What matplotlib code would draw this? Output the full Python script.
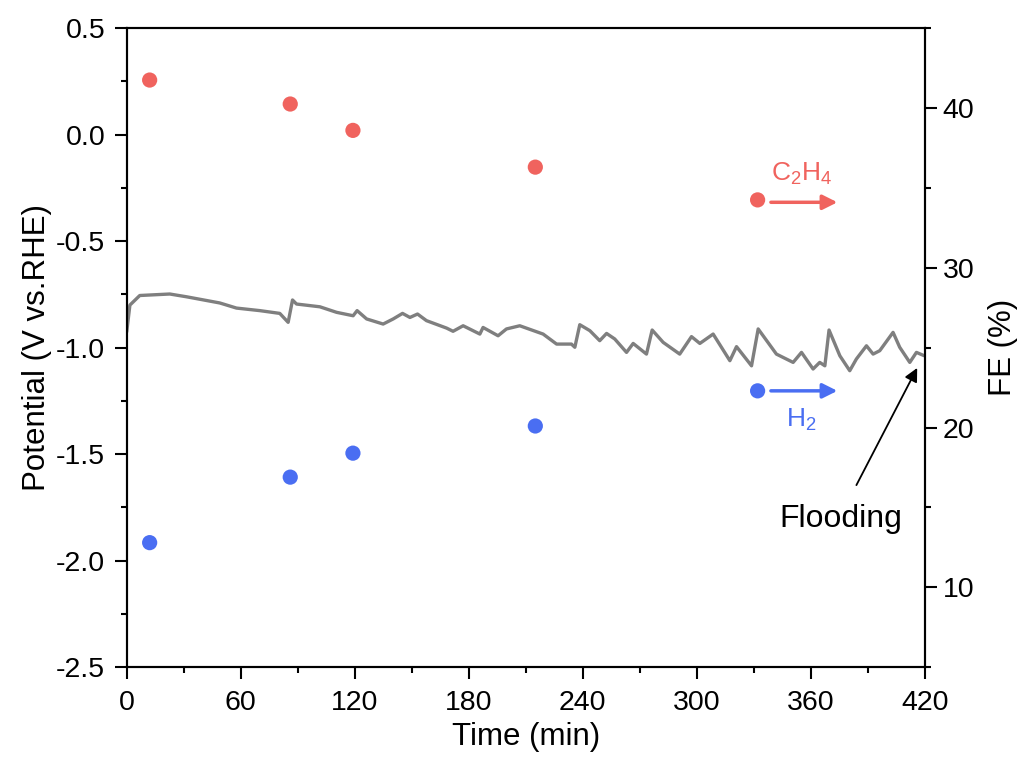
import matplotlib.pyplot as plt
from matplotlib.ticker import MultipleLocator

plt.rcParams['font.family'] = ['Liberation Sans', 'DejaVu Sans']
plt.rcParams['mathtext.fontset'] = 'custom'
plt.rcParams['mathtext.rm'] = 'Liberation Sans'
plt.rcParams['mathtext.default'] = 'regular'

# potential trace (min, V vs RHE)
time_min = [0, 1.6, 6.8, 22.6, 31.4, 48.9, 57.7, 70, 80.5, 84.9, 87.2, 89.3,
            101.6, 110.4, 119.1, 121.2, 126.2, 134.9, 140.2, 145.1, 149, 153,
            157.7, 168.3, 171.7, 177, 185.8, 187.5, 195.4, 199.8, 206.8, 219.1,
            226.2, 234, 235.8, 238.4, 243.7, 248.9, 252.5, 256.8, 263, 266.5,
            273.5, 276.5, 282.3, 291, 297.2, 301.6, 308.6, 317.4, 320.9, 328.8,
            332.3, 341.9, 350.7, 355.1, 361.2, 364.7, 367.4, 369.6, 375.3,
            380.5, 384, 389.3, 392.8, 396.3, 403.3, 406.8, 412.1, 415.6, 419]
potential = [-0.92, -0.80, -0.755, -0.748, -0.761, -0.790, -0.814, -0.826,
             -0.839, -0.881, -0.776, -0.795, -0.808, -0.834, -0.850, -0.826,
             -0.865, -0.889, -0.865, -0.839, -0.858, -0.842, -0.873, -0.908,
             -0.923, -0.897, -0.936, -0.905, -0.944, -0.912, -0.897, -0.936,
             -0.983, -0.983, -0.998, -0.892, -0.920, -0.967, -0.933, -0.959,
             -1.022, -0.980, -1.030, -0.917, -0.975, -1.030, -0.948, -0.980,
             -0.936, -1.061, -0.995, -1.085, -0.912, -1.030, -1.069, -1.022,
             -1.100, -1.069, -1.085, -0.917, -1.038, -1.108, -1.053, -0.991,
             -1.030, -1.014, -0.928, -0.998, -1.069, -1.022, -1.035]

# faradaic efficiencies (%)
fe_time = [12, 86, 119, 215, 332]
fe_c2h4 = [41.75, 40.25, 38.6, 36.3, 34.25]
fe_h2 = [12.8, 16.9, 18.4, 20.1, 22.3]

red = '#f0635e'
blue = '#4a6ef2'
grey = '#7f7f7f'

fig = plt.figure(figsize=(10.23, 7.6), dpi=100)
ax = fig.add_axes([0.124, 0.122, 0.780, 0.841])
ax2 = ax.twinx()

ax.plot(time_min, potential, color=grey, lw=2.4, zorder=2)

ax2.scatter(fe_time, fe_c2h4, s=120, color=red, edgecolors='none', zorder=3)
ax2.scatter(fe_time, fe_h2, s=120, color=blue, edgecolors='none', zorder=3)

# arrows + labels for the two products
ax2.annotate('', xy=(374, 34.1), xytext=(339, 34.1),
             arrowprops=dict(arrowstyle='-|>', color=red, lw=2.5,
                             mutation_scale=22, shrinkA=0, shrinkB=0))
ax2.text(355, 35.9, 'C$_2$H$_4$', color=red, fontsize=19, ha='center', va='center')
ax2.annotate('', xy=(374, 22.3), xytext=(339, 22.3),
             arrowprops=dict(arrowstyle='-|>', color=blue, lw=2.5,
                             mutation_scale=22, shrinkA=0, shrinkB=0))
ax2.text(355, 20.5, 'H$_2$', color=blue, fontsize=19, ha='center', va='center')

# flooding marker
ax.annotate('', xy=(416, -1.095), xytext=(384, -1.645),
            arrowprops=dict(arrowstyle='-|>', color='black', lw=1.3,
                            mutation_scale=20, shrinkA=0, shrinkB=0))
ax.text(376, -1.805, 'Flooding', fontsize=23, ha='center', va='center')

ax.set_xlim(0, 420)
ax.set_ylim(-2.5, 0.5)
ax2.set_ylim(5, 45)

ax.xaxis.set_major_locator(MultipleLocator(60))
ax.xaxis.set_minor_locator(MultipleLocator(30))
ax.yaxis.set_minor_locator(MultipleLocator(0.25))
ax2.yaxis.set_major_locator(MultipleLocator(10))
ax2.yaxis.set_minor_locator(MultipleLocator(5))

ax.set_yticks([0.5, 0.0, -0.5, -1.0, -1.5, -2.0, -2.5])
ax.set_yticklabels(['0.5', '0.0', '-0.5', '-1.0', '-1.5', '-2.0', '-2.5'])

for a in (ax, ax2):
    for s in a.spines.values():
        s.set_linewidth(1.5)
    a.tick_params(which='minor', direction='out', length=4.3, width=1.5)
ax.tick_params(axis='x', which='major', direction='out', length=8.5, width=1.5,
               labelsize=20.5, pad=8)
ax.tick_params(axis='y', which='major', direction='out', length=8.5, width=1.5,
               labelsize=20.5, pad=7)
ax2.tick_params(axis='y', which='major', direction='out', length=8.5, width=1.5,
                labelsize=20.5, pad=4.5)

ax.set_xlabel('Time (min)', fontsize=22.5, labelpad=4)
ax.set_ylabel('Potential (V vs.RHE)', fontsize=22.5, labelpad=3)
ax2.set_ylabel('FE (%)', fontsize=22.5, labelpad=10)

fig.savefig('out.png', dpi=100)
